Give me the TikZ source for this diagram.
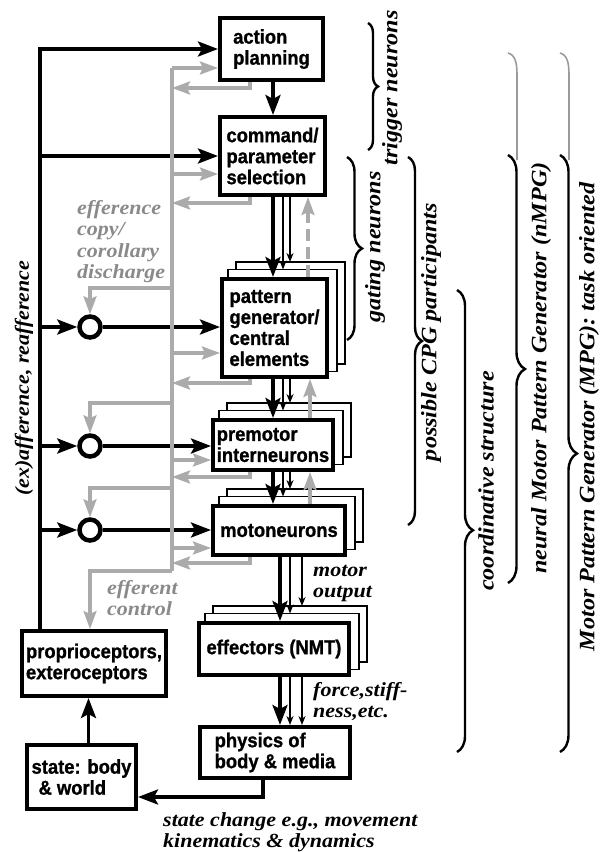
\documentclass[tikz,border=0pt]{standalone}
\usepackage{fontspec}
\newfontfamily\boxfont{Liberation Sans}[FakeStretch=0.92, FakeBold=1]
\newfontfamily\labfont{Liberation Serif}[FakeStretch=1.1]
\usetikzlibrary{arrows.meta,decorations.pathreplacing,backgrounds}
\definecolor{effgray}{HTML}{ABABAB}
\definecolor{labgray}{HTML}{8A8A8A}
\definecolor{brcgray}{HTML}{9A9A9A}

\begin{document}
\begin{tikzpicture}[x=1pt, y=-1pt,
    blk/.style={draw, line width=4, fill=white, inner sep=2, align=left,
        font=\boxfont\bfseries\fontsize{20}{21}\selectfont},
    shd/.style={draw, line width=1.8, fill=white},
    sumc/.style={circle, draw, line width=4.5, fill=white, minimum size=21, inner sep=0},
    barr/.style={line width=3.5, -{Stealth[length=20pt, width=15pt, inset=4pt]}},
    tarr/.style={line width=1.8, -{Stealth[length=9pt, width=7pt]}},
    garr/.style={effgray, line width=3.2, -{Stealth[length=18pt, width=13pt, inset=3pt]}},
    gline/.style={effgray, line width=3.2},
    lab/.style={font=\labfont\bfseries\itshape\fontsize{20}{21.5}\selectfont, align=left, inner sep=0},
    glab/.style={lab, text=labgray},
    rlab/.style={font=\labfont\bfseries\itshape\fontsize{22}{24}\selectfont, rotate=90, inner sep=0},
    brc/.style={decorate, decoration={brace, amplitude=#1}, line width=2.4},
    brc/.default=14]
    \useasboundingbox (0,0) rectangle (600,852);

    % main chain of boxes
    \node[blk, minimum width=103, minimum height=62] (act) at (271.5,49) {action\\planning};
    \node[blk, minimum width=105, minimum height=78] (cmd) at (272.5,156) {command/\\parameter\\selection};
    \node[blk, minimum width=105, minimum height=98] (pg) at (274.5,328) {pattern\\generator/\\central\\elements};
    \node[blk, minimum width=120, minimum height=50] (pre) at (273,445) {premotor\\interneurons};
    \node[blk, minimum width=132, minimum height=49] (mot) at (279,530.5) {motoneurons};
    \node[blk, minimum width=150, minimum height=52] (eff) at (274,649) {effectors (NMT)};
    \node[blk, minimum width=150, minimum height=51] (phy) at (275,752.5) {physics of\\body \& media};
    \node[blk, minimum width=144, minimum height=65] (prop) at (94,663.5) {proprioceptors,\\exteroceptors};
    \node[blk, minimum width=109, minimum height=64] (st) at (81.5,777) {state: body\\\hspace{0.35em}\& world};

    % stacked copies behind the pools
    \begin{scope}[on background layer]
        \foreach \n in {pg,pre,mot,eff}
            \foreach \d in {2,1}
                \draw[shd] ([shift={(8*\d,-7.5*\d)}]\n.south west) rectangle ([shift={(8*\d,-7.5*\d)}]\n.north east);
    \end{scope}

    % summing points
    \node[sumc] (s1) at (90,327) {};
    \node[sumc] (s2) at (90,446) {};
    \node[sumc] (s3) at (90,530) {};

    \coordinate (fbx) at (42,0);
    \coordinate (efx) at (172,0);
    \coordinate (mx) at (273,0);
    \coordinate (ox) at (280,0);

    % afferent feedback
    \draw[barr] ([xshift=20pt]prop.north west) |- (act.west);
    \draw[barr] (fbx |- cmd.west) -- (cmd.west);
    \draw[barr] (fbx |- s1) -- (s1);
    \draw[barr] (fbx |- s2) -- (s2);
    \draw[barr] (fbx |- s3) -- (s3);
    \draw[barr] (s1) -- (s1 -| pg.west);
    \draw[barr] (s2) -- (s2 -| pre.west);
    \draw[barr] (s3) -- (s3 -| mot.west);

    % descending pathways
    \draw[barr] (act.south -| mx) -- (cmd.north -| mx);
    \foreach \a/\b in {cmd/pg, pg/pre, pre/mot} {
        \draw[barr] (\a.south -| mx) -- (\b.north -| mx);
        \draw[tarr] ([xshift=10pt]\a.south -| mx) -- ([xshift=10pt,yshift=7.5pt]\b.north -| mx);
        \draw[tarr] ([xshift=17pt]\a.south -| mx) -- ([xshift=17pt,yshift=15pt]\b.north -| mx);
    }
    \draw[barr] (mot.south -| ox) -- (eff.north -| ox);
    \draw[tarr] ([xshift=10pt]mot.south -| ox) -- ([xshift=10pt,yshift=7.5pt]eff.north -| ox);
    \draw[tarr] ([xshift=22pt]mot.south -| ox) -- ([xshift=22pt,yshift=15pt]eff.north -| ox);
    \draw[barr] (eff.south -| ox) -- (phy.north -| ox);
    \draw[tarr] ([xshift=10pt]eff.south -| ox) -- ([xshift=10pt]phy.north -| ox);
    \draw[tarr] ([xshift=22pt]eff.south -| ox) -- ([xshift=22pt]phy.north -| ox);

    % ascending gray
    \draw[garr, dashed, dash pattern=on 12pt off 6pt] (pg.north -| 308,0) -- (cmd.south -| 308,0);
    \draw[garr] (pre.north -| 310,0) -- (pg.south -| 310,0);
    \draw[garr] (mot.north -| 310,0) -- (pre.south -| 310,0);

    % body loop
    \draw[barr] (phy.south -| 263,0) |- ([yshift=-20pt]st.east);
    \draw[barr] ([xshift=7pt]st.north) -- ([xshift=7pt]st.north |- prop.south);

    % efference copy bus
    \draw[gline] (efx |- 0,68) -- (efx |- 0,571);
    \foreach \b/\y in {act/68, cmd/174, pg/353, pre/460, mot/548}
        \draw[garr] (efx |- 0,\y) -- (\b.west |- 0,\y);
    \foreach \b/\y in {act/88, cmd/203, pg/383, pre/477, mot/563}
        \draw[garr] (\b.south -| 250,0) |- (efx |- 0,\y);
    \draw[garr] (efx |- 0,288) -| (s1);
    \draw[garr] (efx |- 0,403) -| (s2);
    \draw[garr] (efx |- 0,488) -| (s3);
    \draw[garr] (efx |- 0,571) -| ([xshift=-4pt]prop.north);

    % labels
    \node[glab, anchor=north west] (effcopy) at (77,200) {efference\\copy/\\corollary\\discharge};
    \node[glab, anchor=north west] (effctl) at (107,580) {efferent\\control};
    \node[lab, anchor=north west] (motout) at (313,565) {motor\\output};
    \node[lab, anchor=north west] (force) at (313,682) {force,stiff-\\ness,etc.};
    \node[lab, anchor=north west] (stchg) at (163,812) {state change e.g., movement\\kinematics \& dynamics};
    \node[lab, rotate=90] (affl) at (24,378) {(ex)afference, reafference};

    % braces on the right
    \draw[brc=10] (368,23) -- (368,150);
    \draw[brc=15] (347,157) -- (347,340);
    \draw[brc=14] (408,157) -- (408,525);
    \draw[brc=16, decoration={aspect=0.52}] (457,290) -- (457,752);
    \draw[brc=17] (508,155) -- (508,583);
    \draw[brc=17] (560,155) -- (560,752);
    \draw[brcgray, line width=1.6] (508,53) .. controls (515,55) and (517,62) .. (517,75) -- (517,160);
    \draw[brcgray, line width=1.6] (560,53) .. controls (567,55) and (569,62) .. (569,75) -- (569,160);

    \node[rlab] (trig) at (392,88) {trigger neurons};
    \node[rlab] (gate) at (375,247) {gating neurons};
    \node[rlab] (cpg) at (431,332) {possible CPG participants};
    \node[rlab] (coord) at (486,481) {coordinative structure};
    \node[rlab] (nmpg) at (541,368) {neural Motor Pattern Generator (nMPG)};
    \node[rlab] (mpg) at (589,417) {Motor Pattern Generator (MPG): task oriented};
\end{tikzpicture}
\end{document}
